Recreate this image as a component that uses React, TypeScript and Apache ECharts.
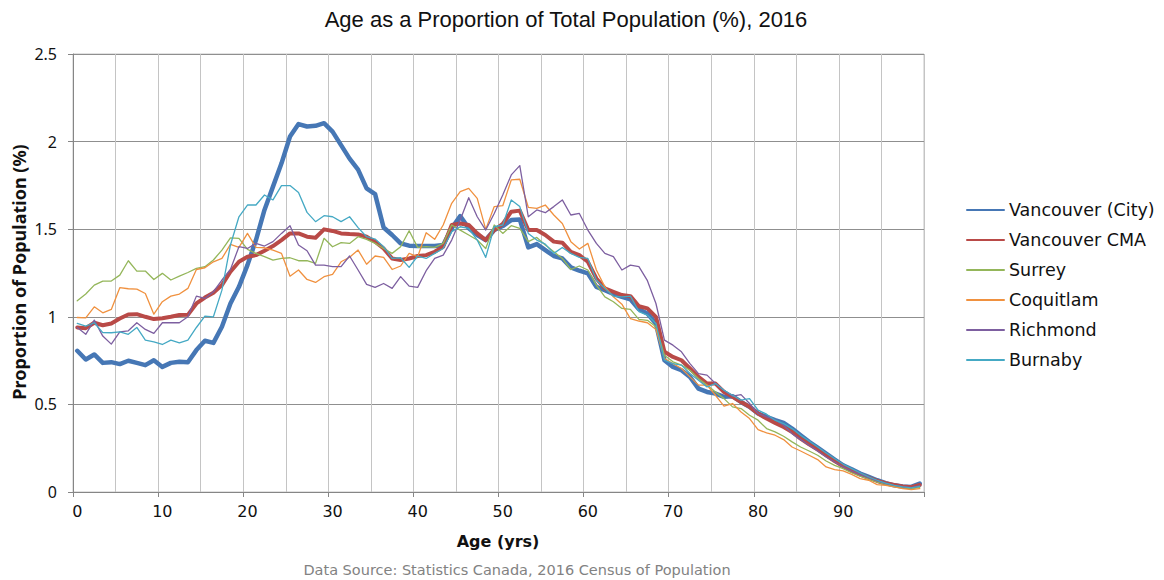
import React, { useEffect, useRef } from "react";
import * as echarts from "echarts";

const ages: string[] = Array.from({ length: 100 }, (_, i) => String(i));

const seriesNames = ["Vancouver (City)", "Vancouver CMA", "Surrey", "Coquitlam", "Richmond", "Burnaby"];

const vancouverCity = [
  0.806, 0.756, 0.785, 0.737, 0.741, 0.73, 0.749, 0.737, 0.724, 0.752,
  0.714, 0.737, 0.743, 0.741, 0.81, 0.863, 0.851, 0.943, 1.076, 1.171,
  1.295, 1.438, 1.61, 1.743, 1.876, 2.029, 2.1, 2.086, 2.09, 2.105,
  2.057, 1.98, 1.903, 1.84, 1.733, 1.7, 1.51, 1.467, 1.419, 1.406,
  1.404, 1.404, 1.404, 1.41, 1.505, 1.575, 1.505, 1.467, 1.438, 1.495,
  1.518, 1.552, 1.556, 1.396, 1.415, 1.381, 1.347, 1.333, 1.282, 1.263,
  1.248, 1.171, 1.152, 1.13, 1.114, 1.1, 1.043, 1.019, 0.962, 0.752,
  0.714, 0.695, 0.657, 0.59, 0.571, 0.562, 0.543, 0.547, 0.514, 0.486,
  0.448, 0.429, 0.41, 0.394, 0.362, 0.324, 0.286, 0.253, 0.219, 0.185,
  0.152, 0.13, 0.105, 0.086, 0.067, 0.051, 0.038, 0.032, 0.029, 0.048,
];

const vancouverCMA = [
  0.939, 0.935, 0.966, 0.952, 0.962, 0.99, 1.013, 1.015, 1.0, 0.987,
  0.992, 1.0, 1.01, 1.011, 1.076, 1.11, 1.137, 1.181, 1.257, 1.314,
  1.343, 1.352, 1.377, 1.404, 1.438, 1.476, 1.476, 1.457, 1.451, 1.499,
  1.49, 1.476, 1.472, 1.47, 1.457, 1.429, 1.39, 1.333, 1.324, 1.333,
  1.347, 1.352, 1.371, 1.4, 1.524, 1.533, 1.524, 1.476, 1.438, 1.495,
  1.53, 1.6, 1.606, 1.495, 1.495, 1.467, 1.429, 1.423, 1.371, 1.352,
  1.314, 1.219, 1.162, 1.143, 1.124, 1.118, 1.06, 1.048, 1.0, 0.8,
  0.771, 0.752, 0.705, 0.657, 0.619, 0.619, 0.571, 0.543, 0.514, 0.486,
  0.448, 0.419, 0.394, 0.371, 0.343, 0.305, 0.272, 0.242, 0.21, 0.177,
  0.147, 0.12, 0.099, 0.08, 0.063, 0.05, 0.04, 0.032, 0.027, 0.04,
];

const surrey = [
  1.091, 1.13, 1.181, 1.204, 1.204, 1.238, 1.32, 1.261, 1.261, 1.213,
  1.248, 1.21, 1.232, 1.253, 1.276, 1.286, 1.324, 1.381, 1.451, 1.448,
  1.385, 1.362, 1.343, 1.324, 1.333, 1.337, 1.32, 1.32, 1.305, 1.448,
  1.4, 1.423, 1.419, 1.457, 1.442, 1.419, 1.39, 1.362, 1.4, 1.491,
  1.396, 1.4, 1.396, 1.419, 1.524, 1.495, 1.467, 1.438, 1.39, 1.524,
  1.476, 1.52, 1.505, 1.429, 1.453, 1.41, 1.371, 1.333, 1.27, 1.29,
  1.267, 1.181, 1.114, 1.086, 1.048, 1.042, 0.985, 0.98, 0.943, 0.781,
  0.743, 0.724, 0.695, 0.648, 0.61, 0.571, 0.533, 0.486, 0.476, 0.438,
  0.41, 0.362, 0.343, 0.318, 0.286, 0.257, 0.234, 0.21, 0.177, 0.152,
  0.133, 0.11, 0.09, 0.074, 0.057, 0.044, 0.032, 0.025, 0.019, 0.025,
];

const coquitlam = [
  0.996, 0.994, 1.057, 1.023, 1.042, 1.166, 1.16, 1.158, 1.133, 1.015,
  1.086, 1.118, 1.13, 1.162, 1.27, 1.28, 1.314, 1.333, 1.413, 1.396,
  1.476, 1.396, 1.394, 1.381, 1.362, 1.232, 1.267, 1.213, 1.196, 1.229,
  1.242, 1.314, 1.34, 1.381, 1.3, 1.347, 1.339, 1.27, 1.29, 1.362,
  1.343, 1.48, 1.442, 1.524, 1.648, 1.714, 1.733, 1.676, 1.499, 1.629,
  1.634, 1.781, 1.785, 1.625, 1.619, 1.638, 1.581, 1.533, 1.429, 1.387,
  1.419, 1.267, 1.171, 1.114, 1.072, 0.99, 0.976, 0.966, 0.928, 0.762,
  0.733, 0.705, 0.657, 0.61, 0.61, 0.552, 0.49, 0.505, 0.457, 0.419,
  0.356, 0.337, 0.324, 0.299, 0.257, 0.234, 0.21, 0.185, 0.143, 0.128,
  0.12, 0.101, 0.076, 0.067, 0.042, 0.038, 0.029, 0.019, 0.013, 0.019,
];

const richmond = [
  0.939, 0.9, 0.981, 0.89, 0.844, 0.914, 0.92, 0.966, 0.928, 0.905,
  0.966, 0.966, 0.966, 1.0, 1.118, 1.105, 1.143, 1.21, 1.27, 1.4,
  1.39, 1.419, 1.404, 1.429, 1.476, 1.52, 1.41, 1.377, 1.295, 1.295,
  1.286, 1.286, 1.347, 1.267, 1.185, 1.168, 1.19, 1.162, 1.229, 1.175,
  1.168, 1.263, 1.333, 1.352, 1.438, 1.552, 1.68, 1.571, 1.495, 1.59,
  1.695, 1.81, 1.863, 1.571, 1.61, 1.594, 1.629, 1.667, 1.581, 1.59,
  1.495, 1.419, 1.362, 1.343, 1.267, 1.295, 1.286, 1.206, 1.076, 0.867,
  0.838, 0.8, 0.733, 0.676, 0.667, 0.619, 0.581, 0.547, 0.556, 0.505,
  0.448, 0.429, 0.413, 0.381, 0.333, 0.299, 0.267, 0.234, 0.2, 0.171,
  0.143, 0.12, 0.099, 0.08, 0.063, 0.048, 0.038, 0.03, 0.025, 0.036,
];

const burnaby = [
  0.962, 0.947, 0.966, 0.91, 0.909, 0.914, 0.9, 0.939, 0.867, 0.857,
  0.842, 0.867, 0.851, 0.867, 0.939, 1.004, 1.0, 1.152, 1.41, 1.571,
  1.638, 1.638, 1.695, 1.667, 1.749, 1.749, 1.709, 1.596, 1.543, 1.577,
  1.571, 1.543, 1.571, 1.509, 1.457, 1.444, 1.4, 1.333, 1.337, 1.282,
  1.347, 1.333, 1.362, 1.39, 1.486, 1.514, 1.505, 1.438, 1.339, 1.514,
  1.524, 1.667, 1.629, 1.476, 1.438, 1.415, 1.362, 1.396, 1.362, 1.339,
  1.333, 1.21, 1.162, 1.118, 1.114, 1.118, 1.03, 1.01, 0.962, 0.752,
  0.733, 0.724, 0.676, 0.638, 0.6, 0.619, 0.581, 0.552, 0.524, 0.533,
  0.467, 0.444, 0.41, 0.39, 0.362, 0.324, 0.291, 0.257, 0.223, 0.19,
  0.158, 0.133, 0.109, 0.086, 0.067, 0.051, 0.038, 0.029, 0.023, 0.032,
];

const seriesData = [vancouverCity, vancouverCMA, surrey, coquitlam, richmond, burnaby];
const colors = ["#4677b5", "#b94a47", "#94b65a", "#f0913f", "#7d5fa0", "#45a9c4"];
const widths = [4.5, 4, 1.3, 1.3, 1.3, 1.3];

export default function App() {
  const ref = useRef<HTMLDivElement>(null);
  useEffect(() => {
    if (!ref.current) return;
    const chart = echarts.init(ref.current, undefined, { renderer: "svg" });
    chart.setOption({
      animation: false,
      backgroundColor: "#ffffff",
      grid: {
        left: 73,
        top: 54,
        width: 851,
        height: 438,
        show: true,
        borderColor: "#c4c4c4",
        borderWidth: 1,
        containLabel: false,
      },
      legend: {
        orient: "vertical",
        left: 966,
        top: 200,
        padding: 0,
        itemWidth: 37,
        itemHeight: 14,
        itemGap: 10,
        itemStyle: { opacity: 0 },
        data: seriesNames,
        textStyle: {
          fontFamily: "DejaVu Sans",
          fontSize: 17.5,
          color: "#111",
          lineHeight: 20,
        },
      },
      xAxis: {
        type: "category",
        data: ages,
        boundaryGap: true,
        axisLine: { show: true, lineStyle: { color: "#868686", width: 1 } },
        axisTick: { show: true, interval: 9, length: 5, lineStyle: { color: "#868686" } },
        axisLabel: {
          interval: 9,
          margin: 11,
          fontFamily: "DejaVu Sans",
          fontSize: 16,
          color: "#111",
        },
        splitLine: { show: true, interval: 4, lineStyle: { color: "#c4c4c4", width: 1 } },
      },
      yAxis: {
        type: "value",
        min: 0,
        max: 2.5,
        interval: 0.5,
        axisLine: { show: true, lineStyle: { color: "#868686", width: 1 } },
        axisTick: { show: true, length: 5, lineStyle: { color: "#868686" } },
        axisLabel: {
          margin: 16,
          fontFamily: "Noto Sans",
          fontSize: 16,
          color: "#111",
        },
        splitLine: { show: true, lineStyle: { color: "#8f8f8f", width: 1 } },
      },
      series: seriesNames.map((name, i) => ({
        name,
        type: "line",
        data: seriesData[i],
        symbol: "none",
        smooth: false,
        lineStyle: { color: colors[i], width: widths[i], join: "round", cap: "round" },
        itemStyle: { color: colors[i] },
        z: 2 + i,
      })),
      graphic: [
        {
          type: "text",
          x: 566,
          y: 19,
          style: {
            text: "Age as a Proportion of Total Population (%), 2016",
            fontFamily: "Liberation Sans",
            fontSize: 22,
            fill: "#111",
            textAlign: "center",
            textVerticalAlign: "middle",
          },
        },
        {
          type: "text",
          x: 19,
          y: 272,
          rotation: Math.PI / 2,
          style: {
            text: "Proportion of Population (%)",
            fontFamily: "Noto Sans",
            fontWeight: "bold",
            fontSize: 18,
            fill: "#111",
            textAlign: "center",
            textVerticalAlign: "middle",
          },
        },
        {
          type: "text",
          x: 498,
          y: 541,
          style: {
            text: "Age (yrs)",
            fontFamily: "DejaVu Sans",
            fontWeight: "bold",
            fontSize: 16,
            fill: "#111",
            textAlign: "center",
            textVerticalAlign: "middle",
          },
        },
        {
          type: "text",
          x: 517,
          y: 570,
          style: {
            text: "Data Source: Statistics Canada, 2016 Census of Population",
            fontFamily: "DejaVu Sans",
            fontSize: 14.5,
            fill: "#828282",
            textAlign: "center",
            textVerticalAlign: "middle",
          },
        },
      ],
    });
    return () => chart.dispose();
  }, []);
  return (
    <div
      ref={ref}
      style={{ position: "absolute", left: 0, top: 0, width: 1164, height: 580 }}
    />
  );
}
